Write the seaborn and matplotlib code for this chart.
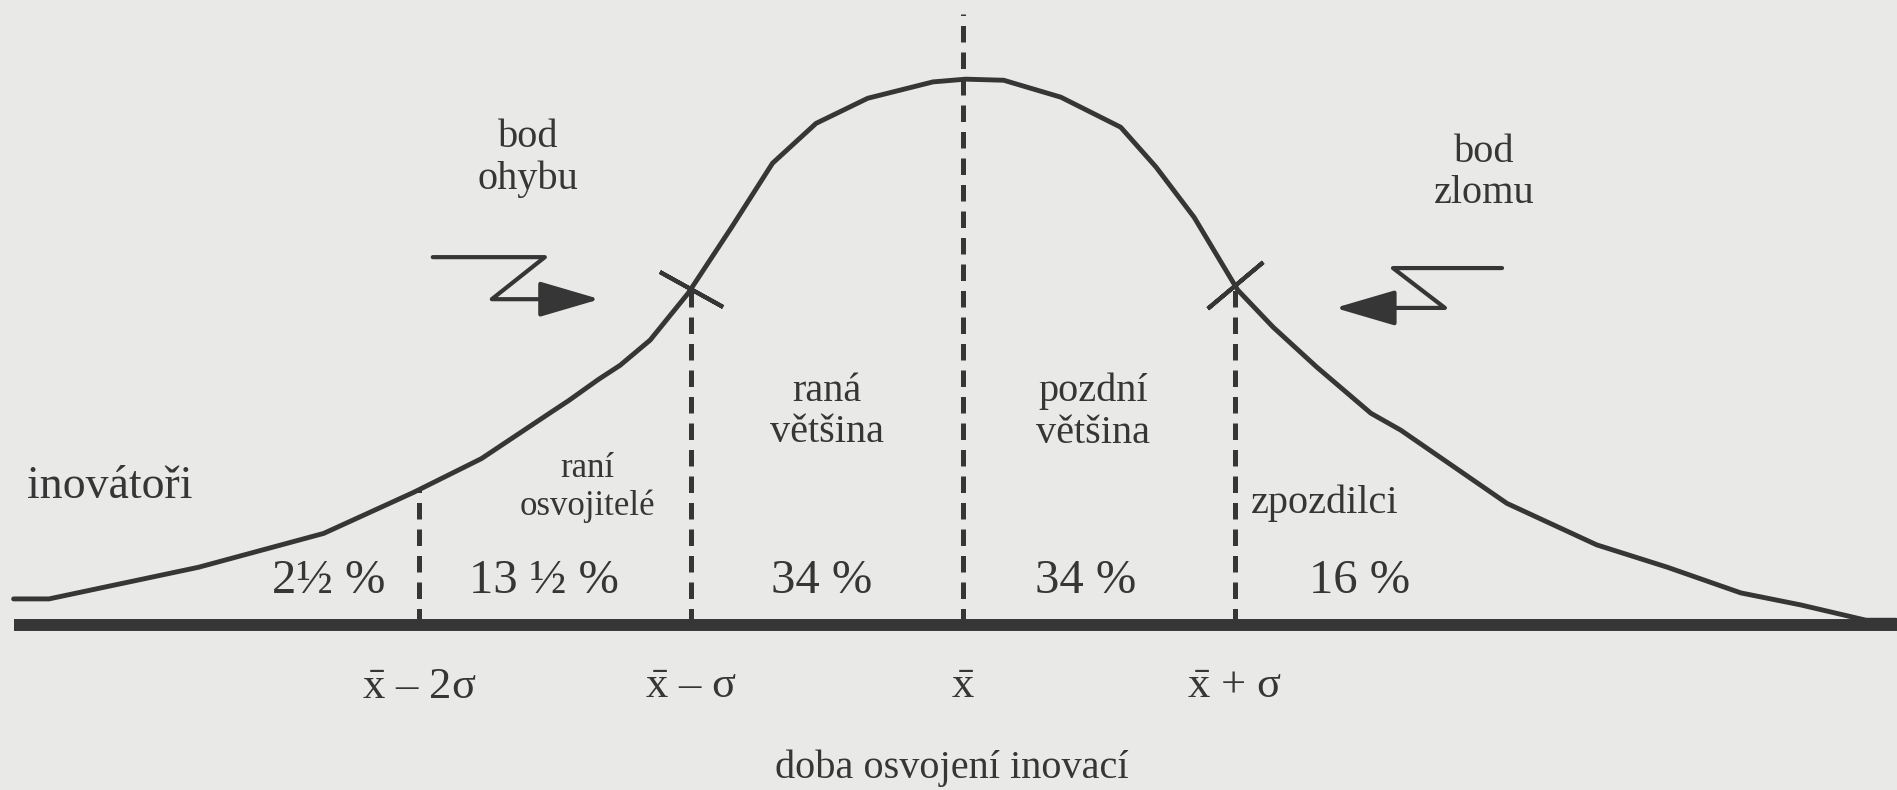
import numpy as np
import matplotlib.pyplot as plt
import seaborn as sns

# krivka (x v jednotkach sigma, y relativne k vrcholu)
curve_x = [-3.49, -3.36, -2.81, -2.35, -2.02, -1.77, -1.52, -1.45, -1.34, -1.26,
           -1.15, -1.01, -0.85, -0.70, -0.54, -0.35, -0.11, 0.01, 0.15, 0.36,
           0.58, 0.71, 0.85, 1.01, 1.14, 1.30, 1.50, 1.61, 2.00, 2.33,
           2.59, 2.86, 3.08, 3.32, 3.43]
curve_y = [0.048, 0.048, 0.106, 0.168, 0.243, 0.305, 0.388, 0.411, 0.450, 0.476,
           0.522, 0.608, 0.729, 0.846, 0.919, 0.965, 0.995, 1.0, 0.998, 0.967,
           0.912, 0.839, 0.747, 0.614, 0.546, 0.473, 0.388, 0.357, 0.223, 0.147,
           0.106, 0.059, 0.037, 0.009, 0.009]

sigma_pos = [-2, -1, 0, 1]
sigma_labels = [r'$\bar{\mathrm{x}}$ – 2σ', r'$\bar{\mathrm{x}}$ – σ',
                r'$\bar{\mathrm{x}}$', r'$\bar{\mathrm{x}}$ + σ']
mean_top = 1.12

shares = ['2½ %', '13 ½ %', '34 %', '34 %', '16 %']
share_x = [-2.33, -1.54, -0.52, 0.45, 1.46]

groups = ['raní\nosvojitelé', 'raná\nvětšina', 'pozdní\nvětšina', 'zpozdilci']
group_x = [-1.38, -0.50, 0.48, 1.33]
group_y = [0.252, 0.390, 0.390, 0.223]

paper = '#e9e9e7'
ink = '#363636'

sns.set_theme(style='white', rc={'figure.facecolor': paper, 'axes.facecolor': paper})
plt.rcParams['font.family'] = ['Liberation Serif', 'DejaVu Serif']
plt.rcParams['mathtext.fontset'] = 'custom'
plt.rcParams['mathtext.rm'] = 'Liberation Serif'
plt.rcParams['mathtext.it'] = 'Liberation Serif:italic'

fig = plt.figure(figsize=(18.97, 7.90), dpi=100)
ax = fig.add_axes([0, 0, 1, 1])
ax.set_xlim(-3.54, 3.434)
ax.set_ylim(-0.302, 1.145)
ax.axis('off')

# osa
ax.hlines(0, curve_x[0], 3.434, color=ink, lw=8.6, zorder=2)

# krivka
sns.lineplot(x=curve_x, y=curve_y, ax=ax, color=ink, lw=3.5, sort=False, zorder=3)

# prerusovane svisle cary
for p in sigma_pos:
    top = mean_top if p == 0 else np.interp(p, curve_x, curve_y)
    ax.vlines(p, 0, top, color=ink, lw=3.6, linestyles=(0, (3.3, 2.0)), zorder=2)

# krizky na inflexnich bodech
for p, ang in [(-1, 61), (1, -50)]:
    ax.plot(p, np.interp(p, curve_x, curve_y), marker=(2, 2, ang), ms=52,
            mec=ink, mew=3, ls='none', zorder=4)

# zalomene sipky
arrow = dict(arrowstyle='-|>,head_length=0.75,head_width=0.22', mutation_scale=50,
             color=ink, lw=3, shrinkA=0, shrinkB=0)
ax.plot([-1.949, -1.537, -1.732, -1.45], [0.674, 0.674, 0.597, 0.597], color=ink, lw=3)
ax.annotate('', xy=(-1.335, 0.597), xytext=(-1.55, 0.597), arrowprops=arrow)
ax.plot([1.982, 1.581, 1.772, 1.48], [0.654, 0.654, 0.581, 0.581], color=ink, lw=3)
ax.annotate('', xy=(1.368, 0.581), xytext=(1.58, 0.581), arrowprops=arrow)

# texty
ax.text(-1.60, 0.855, 'bod\nohybu', ha='center', va='center', fontsize=29,
        color=ink, linespacing=1.15)
ax.text(1.915, 0.828, 'bod\nzlomu', ha='center', va='center', fontsize=29,
        color=ink, linespacing=1.15)
ax.text(-3.44, 0.233, 'inovátoři', ha='left', va='baseline', fontsize=33, color=ink)

for name, gx, gy in zip(groups, group_x, group_y):
    fs = 25 if name.startswith('raní') else 29
    ax.text(gx, gy, name, ha='center', va='center', fontsize=fs, color=ink,
            linespacing=1.15)

for s, sx in zip(shares, share_x):
    ax.text(sx, 0.081, s, ha='center', va='center', fontsize=35, color=ink)

for p, lab in zip(sigma_pos, sigma_labels):
    ax.text(p, -0.114, lab, ha='center', va='center', fontsize=32, color=ink)

ax.text(-0.04, -0.262, 'doba osvojení inovací', ha='center', va='center',
        fontsize=29, color=ink)

fig.savefig('out.png', dpi=100, facecolor=paper)
